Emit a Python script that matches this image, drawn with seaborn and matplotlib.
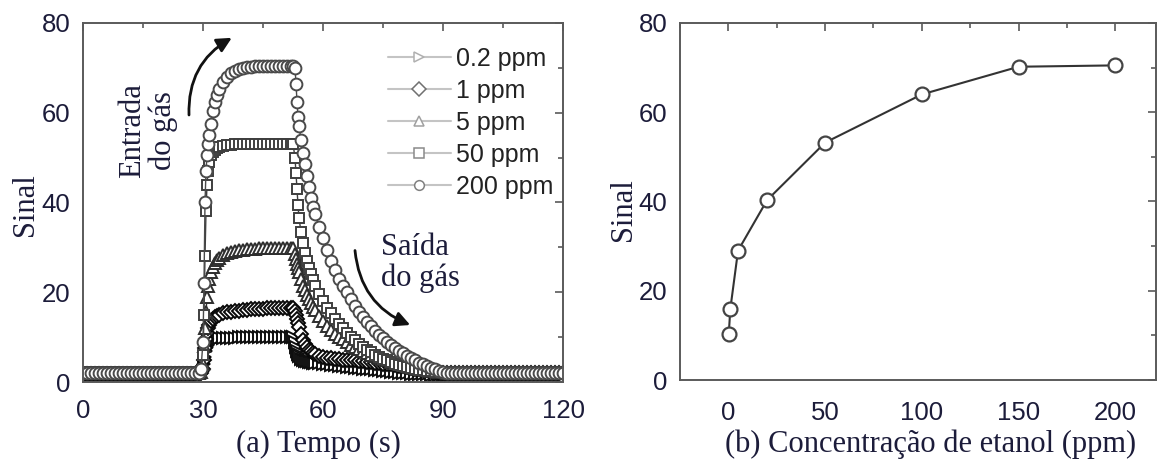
import matplotlib
matplotlib.use("Agg")
import matplotlib.pyplot as plt
from matplotlib.ticker import MultipleLocator
import seaborn as sns

# ---- (a) transient response: time base (s) ----
tempo = [
    0, 1, 2, 3, 4, 5, 6, 7, 8, 9, 10, 11, 12, 13, 14, 15, 16, 17, 18, 19,
    20, 21, 22, 23, 24, 25, 26, 27, 28,
    29, 29.5, 30, 30.25, 30.5, 30.75, 31, 31.25, 31.5, 32, 32.5, 33, 33.5, 34,
    35, 36, 37, 38, 39, 40, 41, 42, 43, 44, 45, 46, 47, 48, 49, 50, 51, 52,
    52.5, 53, 53.25, 53.5, 53.75, 54, 54.5, 55, 55.5, 56, 56.5, 57, 57.5, 58, 59, 60,
    61, 62, 63, 64, 65, 66, 67, 68, 69, 70, 71, 72, 73, 74, 75, 76, 77, 78, 79, 80,
    81, 82, 83, 84, 85, 86, 87, 88, 89, 90,
    91, 92, 93, 94, 95, 96, 97, 98, 99, 100, 101, 102, 103, 104, 105, 106, 107,
    108, 109, 110, 111, 112, 113, 114, 115, 116, 117, 118, 119, 120,
]

sinal_02ppm = [
    1.6, 1.6, 1.6, 1.6, 1.6, 1.6, 1.6, 1.6, 1.6, 1.6, 1.6, 1.6, 1.6, 1.6, 1.6,
    1.6, 1.6, 1.6, 1.6, 1.6, 1.6, 1.6, 1.6, 1.6, 1.6, 1.6, 1.6, 1.6, 1.6,
    1.6, 1.7, 2.5, 4.0, 5.5, 6.8, 7.7, 8.3, 8.7, 9.1, 9.3, 9.5, 9.6, 9.7,
    9.8, 9.8, 9.9, 9.9, 10.0, 10.0, 10.0, 10.0, 10.0, 10.0, 10.0, 10.0, 10.0,
    10.0, 10.0, 10.0, 10.0, 10.0,
    10.0, 9.0, 7.9, 7.0, 6.3, 5.8, 5.2, 4.9, 4.7, 4.6, 4.5, 4.4, 4.3, 4.25, 4.15, 4.05,
    3.95, 3.85, 3.75, 3.65, 3.55, 3.45, 3.35, 3.2, 3.1, 3.0, 2.9, 2.8, 2.7, 2.6,
    2.5, 2.4, 2.3, 2.2, 2.1, 2.0, 1.9, 1.8, 1.8, 1.7, 1.7, 1.7, 1.6, 1.6, 1.6, 1.6,
    1.6, 1.6, 1.6, 1.6, 1.6, 1.6, 1.6, 1.6, 1.6, 1.6, 1.6, 1.6, 1.6, 1.6, 1.6,
    1.6, 1.6, 1.6, 1.6, 1.6, 1.6, 1.6, 1.6, 1.6, 1.6, 1.6, 1.6, 1.6, 1.6, 1.6,
]

sinal_1ppm = [
    1.8, 1.8, 1.8, 1.8, 1.8, 1.8, 1.8, 1.8, 1.8, 1.8, 1.8, 1.8, 1.8, 1.8, 1.8,
    1.8, 1.8, 1.8, 1.8, 1.8, 1.8, 1.8, 1.8, 1.8, 1.8, 1.8, 1.8, 1.8, 1.8,
    1.8, 1.9, 3.0, 5.0, 7.5, 9.5, 11.0, 12.0, 12.7, 13.5, 14.0, 14.4, 14.7, 15.0,
    15.3, 15.5, 15.7, 15.8, 15.9, 16.0, 16.1, 16.2, 16.2, 16.3, 16.3, 16.4, 16.4,
    16.4, 16.4, 16.5, 16.5, 16.5,
    16.5, 15.8, 14.9, 14.0, 13.1, 12.2, 10.7, 9.4, 8.5, 7.8, 7.2, 6.8, 6.5, 6.2, 5.8, 5.6,
    5.4, 5.3, 5.2, 5.1, 5.0, 4.9, 4.9, 4.8, 4.7, 4.6, 4.5, 4.4, 4.3, 4.2, 4.1,
    4.0, 3.9, 3.8, 3.6, 3.5, 3.3, 3.2, 3.0, 2.9, 2.7, 2.6, 2.4, 2.3, 2.1, 2.0,
    1.9, 1.9, 1.9, 1.9, 1.9, 1.9, 1.9, 1.9, 1.9, 1.9, 1.9, 1.9, 1.9, 1.9, 1.9,
    1.9, 1.9, 1.9, 1.9, 1.9, 1.9, 1.9, 1.9, 1.9, 1.9, 1.9, 1.9, 1.9, 1.9, 1.9,
]

sinal_5ppm = [
    2.0, 2.0, 2.0, 2.0, 2.0, 2.0, 2.0, 2.0, 2.0, 2.0, 2.0, 2.0, 2.0, 2.0, 2.0,
    2.0, 2.0, 2.0, 2.0, 2.0, 2.0, 2.0, 2.0, 2.0, 2.0, 2.0, 2.0, 2.0, 2.0,
    2.0, 2.2, 4.0, 8.0, 12.0, 15.5, 19.0, 21.5, 23.0, 24.5, 25.6, 26.5, 27.1, 27.6,
    28.2, 28.7, 29.0, 29.2, 29.4, 29.5, 29.6, 29.7, 29.7, 29.8, 29.8, 29.8, 29.8,
    29.8, 29.8, 29.8, 29.8, 29.8,
    29.8, 28.6, 27.5, 26.4, 25.4, 24.5, 22.9, 21.5, 20.4, 19.4, 18.5, 17.6, 16.8, 16.0, 14.7, 13.5,
    12.5, 11.6, 10.8, 10.1, 9.5, 8.9, 8.3, 7.8, 7.3, 6.9, 6.5, 6.1, 5.7, 5.4, 5.1,
    4.8, 4.5, 4.2, 4.0, 3.8, 3.6, 3.4, 3.2, 3.0, 2.8, 2.6, 2.5, 2.4, 2.3, 2.2,
    2.0, 2.0, 2.0, 2.0, 2.0, 2.0, 2.0, 2.0, 2.0, 2.0, 2.0, 2.0, 2.0, 2.0, 2.0,
    2.0, 2.0, 2.0, 2.0, 2.0, 2.0, 2.0, 2.0, 2.0, 2.0, 2.0, 2.0, 2.0, 2.0, 2.0,
]

sinal_50ppm = [
    2.2, 2.2, 2.2, 2.2, 2.2, 2.2, 2.2, 2.2, 2.2, 2.2, 2.2, 2.2, 2.2, 2.2, 2.2,
    2.2, 2.2, 2.2, 2.2, 2.2, 2.2, 2.2, 2.2, 2.2, 2.2, 2.2, 2.2, 2.2, 2.2,
    2.2, 2.5, 6.0, 15.0, 28.0, 38.0, 44.0, 47.0, 49.0, 50.5, 51.3, 51.8, 52.1, 52.4,
    52.6, 52.8, 52.9, 53.0, 53.0, 53.0, 53.1, 53.1, 53.1, 53.1, 53.1, 53.1, 53.1,
    53.1, 53.1, 53.1, 53.1, 53.1,
    53.1, 50.0, 46.5, 43.0, 39.5, 36.5, 33.5, 31.0, 28.8, 27.0, 25.4, 24.0, 22.7, 21.5, 19.6, 18.0,
    16.6, 15.3, 14.1, 13.0, 12.0, 11.0, 10.1, 9.3, 8.5, 7.8, 7.2, 6.6, 6.1, 5.6, 5.2,
    4.8, 4.4, 4.1, 3.8, 3.5, 3.3, 3.1, 2.9, 2.7, 2.6, 2.5, 2.4, 2.3, 2.2, 2.2,
    2.2, 2.2, 2.2, 2.2, 2.2, 2.2, 2.2, 2.2, 2.2, 2.2, 2.2, 2.2, 2.2, 2.2, 2.2,
    2.2, 2.2, 2.2, 2.2, 2.2, 2.2, 2.2, 2.2, 2.2, 2.2, 2.2, 2.2, 2.2, 2.2, 2.2,
]

sinal_200ppm = [
    2.0, 2.0, 2.0, 2.0, 2.0, 2.0, 2.0, 2.0, 2.0, 2.0, 2.0, 2.0, 2.0, 2.0, 2.0,
    2.0, 2.0, 2.0, 2.0, 2.0, 2.0, 2.0, 2.0, 2.0, 2.0, 2.0, 2.0, 2.0, 2.0,
    2.0, 3.0, 9.0, 22.0, 40.0, 47.0, 50.5, 53.0, 55.0, 57.5, 60.5, 62.5, 64.0, 65.2,
    66.8, 68.0, 68.8, 69.3, 69.7, 70.0, 70.2, 70.3, 70.4, 70.5, 70.5, 70.5, 70.5,
    70.5, 70.5, 70.5, 70.5, 70.5,
    70.5, 70.0, 66.5, 62.5, 59.0, 57.0, 54.0, 51.0, 48.5, 46.0, 43.5, 41.0, 39.0, 37.5, 34.5, 32.0,
    29.5, 27.0, 25.0, 23.0, 21.5, 20.0, 18.5, 17.0, 15.7, 14.5, 13.4, 12.4, 11.4, 10.5, 9.7,
    9.0, 8.3, 7.6, 7.0, 6.4, 5.8, 5.3, 4.8, 4.3, 3.9, 3.5, 3.1, 2.8, 2.5, 2.3,
    2.1, 2.0, 2.0, 2.0, 2.0, 2.0, 2.0, 2.0, 2.0, 2.0, 2.0, 2.0, 2.0, 2.0, 2.0,
    2.0, 2.0, 2.0, 2.0, 2.0, 2.0, 2.0, 2.0, 2.0, 2.0, 2.0, 2.0, 2.0, 2.0, 2.0,
]

rotulos = ["0.2 ppm", "1 ppm", "5 ppm", "50 ppm", "200 ppm"]
series = [sinal_02ppm, sinal_1ppm, sinal_5ppm, sinal_50ppm, sinal_200ppm]
marcadores = [">", "D", "^", "s", "o"]
tam_marcador = [8.0, 7.0, 8.0, 7.5, 8.5]
cor_borda = ["#0e0e0e", "#080808", "#2e2e2e", "#3e3e3e", "#4a4a4a"]
cor_legenda = ["#b0b0b0", "#707070", "#a0a0a0", "#8a8a8a", "#808080"]

# ---- (b) calibration curve ----
concentracao = [0.2, 1, 5, 20, 50, 100, 150, 200]
sinal_b = [10.3, 15.9, 29.0, 40.3, 53.2, 64.0, 70.2, 70.5]

# ---- style ----
sns.set_style("white")
plt.rcParams["font.family"] = ["Liberation Sans", "DejaVu Sans"]
TXT = "#1c1c3a"
SERIF = ["Liberation Serif", "DejaVu Serif"]
SPINE = "#5a5a5a"

fig = plt.figure(figsize=(11.57, 4.61), dpi=100)
W, H = 1157, 461
ax1 = fig.add_axes([83 / W, 1 - 382 / H, 480 / W, 359 / H])
ax2 = fig.add_axes([680 / W, 1 - 380 / H, 476 / W, 357 / H])


def style_axes(ax, xmaj, xmin, xpad):
    ax.yaxis.set_major_locator(MultipleLocator(20))
    ax.yaxis.set_minor_locator(MultipleLocator(10))
    ax.xaxis.set_major_locator(MultipleLocator(xmaj))
    ax.xaxis.set_minor_locator(MultipleLocator(xmin))
    ax.tick_params(which="both", direction="in", top=True, right=True,
                   color=SPINE, width=1.2)
    ax.tick_params(which="major", length=6)
    ax.tick_params(which="minor", length=3.5)
    ax.tick_params(axis="y", which="major", labelsize=18.5, labelcolor=TXT, pad=9)
    ax.tick_params(axis="x", which="major", labelsize=18.5, labelcolor=TXT, pad=xpad)
    for sp in ax.spines.values():
        sp.set_color(SPINE)
        sp.set_linewidth(1.4)
        sp.set_visible(True)
    ax.set_ylim(0, 80)


# (a) response curves
for nome, valores, mk, ms, ce in zip(rotulos, series, marcadores, tam_marcador, cor_borda):
    sns.lineplot(x=tempo, y=valores, ax=ax1, color=ce, lw=1.0, marker=mk,
                 markersize=ms, markerfacecolor="white", markeredgecolor=ce,
                 markeredgewidth=1.4, label=nome, sort=False)

ax1.set_xlim(0, 120)
style_axes(ax1, 30, 15, 12)
ax1.set_xlabel("(a) Tempo (s)", family=SERIF, fontsize=22, color=TXT, va="center")
ax1.xaxis.set_label_coords(0.49, -0.175)
ax1.set_ylabel("Sinal", family=SERIF, fontsize=22, color=TXT, va="center")
ax1.yaxis.set_label_coords(-0.119, 0.493)

leg = ax1.legend(loc="upper right", bbox_to_anchor=(1.0, 0.962), frameon=False,
                 fontsize=18, handlelength=2.5, handletextpad=0.2,
                 labelspacing=0.32, borderaxespad=0.0)
for h, c in zip(leg.legend_handles, cor_legenda):
    h.set_color("#c4c4c4")
    h.set_linewidth(1.5)
    h.set_markeredgecolor(c)
    h.set_markeredgewidth(1.1)
    h.set_markerfacecolor("white")
    h.set_markersize(7)
for t in leg.get_texts():
    t.set_color("#222222")

# annotations for gas inlet/outlet
ax1.text(16.3, 56.0, "Entrada\ndo gás", rotation=90, ha="center", va="center",
         family=SERIF, fontsize=22, color=TXT, linespacing=1.05)
ax1.annotate("", xy=(37.2, 76.7), xytext=(26.5, 59.5),
             arrowprops=dict(arrowstyle="-|>", connectionstyle="arc3,rad=-0.3",
                             lw=2.0, color="#111111", mutation_scale=22,
                             shrinkA=0, shrinkB=0))
ax1.text(74.5, 26.5, "Saída\ndo gás", ha="left", va="center",
         family=SERIF, fontsize=22, color=TXT, linespacing=1.05)
ax1.annotate("", xy=(81.8, 12.7), xytext=(68.0, 29.3),
             arrowprops=dict(arrowstyle="-|>", connectionstyle="arc3,rad=0.3",
                             lw=2.0, color="#111111", mutation_scale=22,
                             shrinkA=0, shrinkB=0))

# (b) signal versus concentration
sns.lineplot(x=concentracao, y=sinal_b, ax=ax2, color="#333333", lw=1.5,
             marker="o", markersize=10, markerfacecolor="white",
             markeredgecolor="#444444", markeredgewidth=1.6)
ax2.set_xlim(-25, 221)
style_axes(ax2, 50, 25, 15)
ax2.set_xlabel("(b) Concentração de etanol (ppm)", family=SERIF, fontsize=22,
               color=TXT, va="center")
ax2.xaxis.set_label_coords(0.527, -0.179)
ax2.set_ylabel("Sinal", family=SERIF, fontsize=22, color=TXT, va="center")
ax2.yaxis.set_label_coords(-0.118, 0.476)

fig.savefig("out.png", dpi=100, facecolor="white")
